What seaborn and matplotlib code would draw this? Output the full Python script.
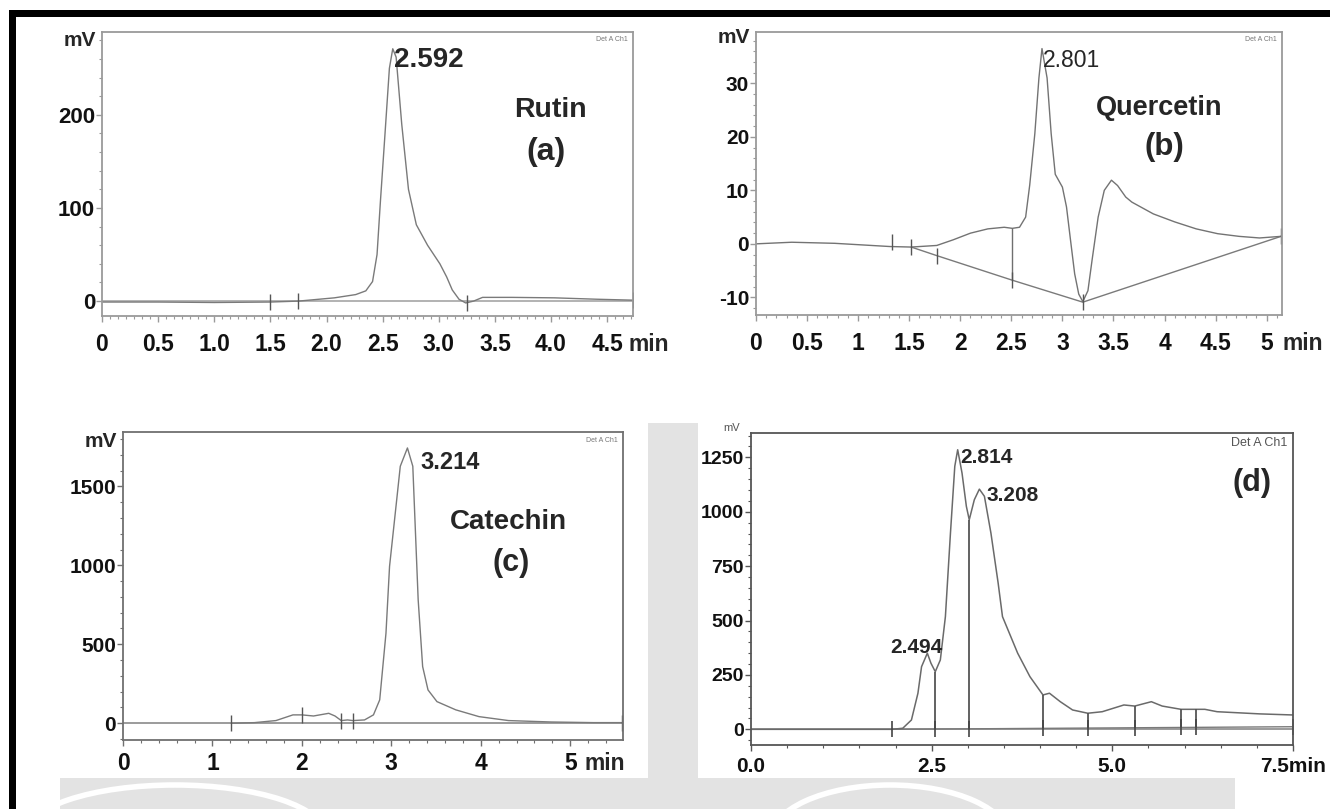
import matplotlib
matplotlib.use("Agg")
import matplotlib.pyplot as plt
import seaborn as sns
from matplotlib.ticker import MultipleLocator, FixedLocator
from matplotlib.patches import Rectangle, Ellipse

# ---------------- data ----------------
# (a) Rutin
rutin_t = [0.0, 0.5, 1.0, 1.5, 1.75, 2.07, 2.26, 2.35, 2.41, 2.45, 2.48, 2.52, 2.56, 2.59,
           2.62, 2.67, 2.73, 2.80, 2.90, 3.01, 3.07, 3.12, 3.18, 3.24, 3.31, 3.39, 3.65,
           4.03, 4.41, 4.73]
rutin_mv = [-1, -1, -1.5, -1, 0, 3.5, 7, 11, 21, 50, 107, 178, 250, 271,
            262, 190, 120, 82, 60, 40, 26, 12, 2, -2, 0, 4, 4,
            3.5, 2, 1]
rutin_marks_t = [1.5, 1.75, 3.25, 4.73]
rutin_marks_mv = [-1, 0, -2, 1]

# (b) Quercetin
quer_t = [0.0, 0.35, 0.77, 1.31, 1.52, 1.77, 1.93, 2.10, 2.27, 2.43, 2.51, 2.58, 2.64, 2.68,
          2.73, 2.77, 2.80, 2.85, 2.89, 2.93, 3.00, 3.04, 3.08, 3.12, 3.16, 3.20, 3.25,
          3.29, 3.35, 3.41, 3.48, 3.54, 3.62, 3.68, 3.89, 4.10, 4.31, 4.52, 4.73, 4.93, 5.14]
quer_mv = [0.0, 0.3, 0.1, -0.5, -0.6, -0.3, 0.75, 2.0, 2.8, 3.1, 2.9, 3.1, 5.0, 11.0,
           20.6, 31.0, 36.5, 31.0, 20.6, 13.0, 10.6, 6.9, 0.6, -5.6, -9.4, -10.8, -8.75,
           -3.1, 5.0, 10.0, 11.9, 10.9, 8.75, 7.8, 5.6, 4.1, 2.8, 1.9, 1.4, 1.1, 1.4]
quer_base_t = [1.52, 1.77, 2.51, 3.20, 5.14]
quer_base_mv = [-0.6, -2.2, -6.8, -10.9, 1.4]
quer_marks_t = [1.33, 1.52, 1.77, 2.51, 3.20, 5.14]
quer_marks_mv = [0.4, -0.6, -2.2, -6.8, -10.9, 1.4]
quer_drop_t = [2.51]
quer_drop_top = [2.9]
quer_drop_bot = [-6.8]

# (c) Catechin
cat_t = [1.21, 1.47, 1.71, 1.90, 2.00, 2.13, 2.30, 2.37, 2.44, 2.51, 2.57, 2.70, 2.80, 2.87,
         2.94, 2.98, 3.06, 3.10, 3.18, 3.24, 3.27, 3.30, 3.35, 3.41, 3.51, 3.72, 3.98,
         4.31, 4.79, 5.26, 5.58]
cat_mv = [0, 4, 17, 53, 53, 46, 63, 46, 17, 21, 17, 21, 53, 148,
          570, 993, 1415, 1627, 1743, 1627, 1204, 782, 359, 211, 137, 85, 42,
          17, 8, 4, 4]
cat_marks_t = [1.21, 2.00, 2.44, 2.57, 5.58]
cat_marks_mv = [0, 53, 17, 17, 4]

# (d) sample
samp_t = [0.0, 1.95, 2.10, 2.22, 2.31, 2.36, 2.44, 2.49, 2.55, 2.62, 2.69, 2.76, 2.82, 2.86,
          2.92, 2.98, 3.02, 3.09, 3.16, 3.23, 3.32, 3.42, 3.48, 3.69, 3.86, 4.04, 4.13,
          4.28, 4.45, 4.66, 4.86, 5.16, 5.31, 5.54, 5.69, 5.95, 6.16, 6.28, 6.45, 7.04, 7.5]
samp_mv = [0, 0, 5, 43, 166, 288, 350, 304, 265, 319, 518, 902, 1209, 1285,
           1178, 1025, 963, 1055, 1104, 1071, 902, 672, 518, 350, 242, 158, 166,
           127, 89, 74, 81, 112, 107, 127, 107, 92, 92, 92, 81, 71, 66]
samp_base_t = [1.95, 7.5]
samp_base_mv = [0, 12]
samp_drop_t = [2.55, 3.02, 4.04, 4.66, 5.31, 5.95, 6.16]
samp_drop_top = [265, 963, 158, 74, 107, 92, 92]
samp_drop_bot = [1, 3, 4, 6, 7, 9, 9]
samp_marks_t = [1.95, 2.55, 3.02, 4.04, 4.66, 5.31, 5.95, 6.16, 7.5]
samp_marks_mv = [0, 1, 3, 4, 6, 7, 9, 9, 12]

# tick labels
a_xticks = [0, 0.5, 1.0, 1.5, 2.0, 2.5, 3.0, 3.5, 4.0, 4.5]
a_xlabels = ["0", "0.5", "1.0", "1.5", "2.0", "2.5", "3.0", "3.5", "4.0", "4.5"]
a_yticks = [0, 100, 200]
b_xticks = [0, 0.5, 1, 1.5, 2, 2.5, 3, 3.5, 4, 4.5, 5]
b_xlabels = ["0", "0.5", "1", "1.5", "2", "2.5", "3", "3.5", "4", "4.5", "5"]
b_yticks = [-10, 0, 10, 20, 30]
c_xticks = [0, 1, 2, 3, 4, 5]
c_xlabels = ["0", "1", "2", "3", "4", "5"]
c_yticks = [0, 500, 1000, 1500]
d_xticks = [0.0, 2.5, 5.0, 7.5]
d_xlabels = ["0.0", "2.5", "5.0", "7.5min"]
d_yticks = [0, 250, 500, 750, 1000, 1250]

# ---------------- figure ----------------
sns.set_theme(style="ticks")
plt.rcParams["font.family"] = ["Liberation Sans", "DejaVu Sans"]

W, H = 1330, 809
fig = plt.figure(figsize=(W / 100, H / 100), dpi=100)
fig.patch.set_facecolor("white")


def frect(x0, y0, x1, y1, color, z=0):
    fig.patches.append(Rectangle((x0 / W, 1 - y1 / H), (x1 - x0) / W, (y1 - y0) / H,
                                 transform=fig.transFigure, color=color, zorder=z, lw=0))


# faint watermark behind the lower panels
wm = "#e3e3e3"
frect(648, 423, 698, 809, wm)
frect(60, 778, 1235, 809, wm)
for (cx, cy, ew, eh) in [(175, 835, 300, 100), (890, 840, 240, 110)]:
    fig.patches.append(Ellipse((cx / W, 1 - cy / H), ew / W, eh / H, transform=fig.transFigure,
                               fill=False, ec="white", lw=4, zorder=0.5))

# black frame (top and left)
frect(9, 10, 1330, 17, "black", 5)
frect(9, 10, 16, 809, "black", 5)


def add_ax(l, t, r, b):
    ax = fig.add_axes([l / W, 1 - b / H, (r - l) / W, (b - t) / H])
    ax.set_facecolor("white")
    return ax


def style(ax, xlim, ylim, xticks, xlabels, xminor, yticks, yminor, spine, xsize, ysize,
          xpad):
    ax.set_xlim(*xlim)
    ax.set_ylim(*ylim)
    for s in ax.spines.values():
        s.set_color(spine)
        s.set_linewidth(1.3)
        s.set_visible(True)
    ax.xaxis.set_major_locator(FixedLocator(xticks))
    ax.set_xticklabels(xlabels, fontsize=xsize, fontweight="bold", color="#111111")
    ax.xaxis.set_minor_locator(MultipleLocator(xminor))
    ax.yaxis.set_major_locator(FixedLocator(yticks))
    ax.set_yticklabels([str(v) for v in yticks], fontsize=ysize, fontweight="bold",
                       color="#111111")
    ax.yaxis.set_minor_locator(MultipleLocator(yminor))
    ax.tick_params(axis="both", which="both", direction="out", color=spine,
                   bottom=True, left=True, top=False, right=False)
    ax.tick_params(axis="x", which="major", length=4, width=1.0, pad=xpad)
    ax.tick_params(axis="x", which="minor", length=2.5, width=0.8)
    ax.tick_params(axis="y", which="major", length=4, width=1.0, pad=1)
    ax.tick_params(axis="y", which="minor", length=2.5, width=0.8)
    ax.set_xlabel("")
    ax.set_ylabel("")


trace_kw = dict(estimator=None, sort=False, legend=False)

# ---------------- (a) Rutin ----------------
axa = add_ax(102, 32, 633, 316)
axa.axhline(0, color="#a5a5a5", lw=1.2, zorder=1)
sns.lineplot(x=rutin_t, y=rutin_mv, ax=axa, color="#7a7a7a", lw=1.0, **trace_kw)
axa.plot(rutin_marks_t, rutin_marks_mv, ls="none", marker="|", ms=11, mew=1.0, color="#555555")
style(axa, (0, 4.73), (-16, 289), a_xticks, a_xlabels, 0.5 / 7, a_yticks, 20, "#9a9a9a",
      16.5, 16, 8.5)
axa.text(0.55, 0.90, "2.592", transform=axa.transAxes, fontsize=20, fontweight="bold",
         ha="left", va="center")
axa.text(0.844, 0.725, "Rutin", transform=axa.transAxes, fontsize=20.5, fontweight="bold",
         ha="center", va="center")
axa.text(0.836, 0.577, "(a)", transform=axa.transAxes, fontsize=23, fontweight="bold",
         ha="center", va="center")
axa.text(0.99, 0.985, "Det A Ch1", transform=axa.transAxes, fontsize=5, color="#777777",
         ha="right", va="top")
axa.text(-0.012, 0.97, "mV", transform=axa.transAxes, fontsize=15, fontweight="bold",
         ha="right", va="center")
axa.text(1.03, -0.099, "min", transform=axa.transAxes, fontsize=16.5, fontweight="bold",
         ha="center", va="center")

# ---------------- (b) Quercetin ----------------
axb = add_ax(756, 32, 1282, 315)
sns.lineplot(x=quer_base_t, y=quer_base_mv, ax=axb, color="#7a7a7a", lw=1.0, **trace_kw)
sns.lineplot(x=quer_t, y=quer_mv, ax=axb, color="#737373", lw=1.0, **trace_kw)
axb.vlines(quer_drop_t, quer_drop_bot, quer_drop_top, color="#6f6f6f", lw=1.0)
axb.plot(quer_marks_t, quer_marks_mv, ls="none", marker="|", ms=11, mew=1.0, color="#555555")
style(axb, (0, 5.15), (-13.3, 39.6), b_xticks, b_xlabels, 0.1, b_yticks, 2, "#9a9a9a",
      16.5, 15, 8.5)
axb.text(0.546, 0.90, "2.801", transform=axb.transAxes, fontsize=16.5, ha="left", va="center")
axb.text(0.766, 0.731, "Quercetin", transform=axb.transAxes, fontsize=19.5, fontweight="bold",
         ha="center", va="center")
axb.text(0.776, 0.594, "(b)", transform=axb.transAxes, fontsize=22.5, fontweight="bold",
         ha="center", va="center")
axb.text(0.99, 0.985, "Det A Ch1", transform=axb.transAxes, fontsize=5, color="#777777",
         ha="right", va="top")
axb.text(-0.012, 0.98, "mV", transform=axb.transAxes, fontsize=15, fontweight="bold",
         ha="right", va="center")
axb.text(1.0, -0.099, "min", transform=axb.transAxes, fontsize=16.5, fontweight="bold",
         ha="left", va="center")

# ---------------- (c) Catechin ----------------
axc = add_ax(123, 432, 623, 740)
axc.axhline(0, color="#8a8a8a", lw=1.2, zorder=1)
sns.lineplot(x=cat_t, y=cat_mv, ax=axc, color="#7a7a7a", lw=1.0, **trace_kw)
axc.plot(cat_marks_t, cat_marks_mv, ls="none", marker="|", ms=11, mew=1.0, color="#555555")
style(axc, (0, 5.59), (-106, 1844), c_xticks, c_xlabels, 0.2, c_yticks, 100, "#707070",
      16.5, 15, 5)
axc.text(0.594, 0.90, "3.214", transform=axc.transAxes, fontsize=17, fontweight="bold",
         ha="left", va="center")
axc.text(0.77, 0.708, "Catechin", transform=axc.transAxes, fontsize=20, fontweight="bold",
         ha="center", va="center")
axc.text(0.776, 0.575, "(c)", transform=axc.transAxes, fontsize=22, fontweight="bold",
         ha="center", va="center")
axc.text(0.99, 0.985, "Det A Ch1", transform=axc.transAxes, fontsize=5, color="#777777",
         ha="right", va="top")
axc.text(-0.012, 0.968, "mV", transform=axc.transAxes, fontsize=15, fontweight="bold",
         ha="right", va="center")
axc.text(0.924, -0.075, "min", transform=axc.transAxes, fontsize=16.5, fontweight="bold",
         ha="left", va="center")

# ---------------- (d) sample ----------------
axd = add_ax(751, 433, 1293, 745)
axd.axhline(0, color="#8a8a8a", lw=1.2, zorder=1)
sns.lineplot(x=samp_base_t, y=samp_base_mv, ax=axd, color="#7a7a7a", lw=1.0, **trace_kw)
sns.lineplot(x=samp_t, y=samp_mv, ax=axd, color="#6a6a6a", lw=1.1, **trace_kw)
axd.vlines(samp_drop_t, samp_drop_bot, samp_drop_top, color="#555555", lw=1.3)
axd.plot(samp_marks_t, samp_marks_mv, ls="none", marker="|", ms=11, mew=1.2, color="#444444")
style(axd, (0, 7.5), (-72, 1362), d_xticks, d_xlabels, 0.5, d_yticks, 50, "#555555",
      15, 14, 5)
axd.text(0.386, 0.923, "2.814", transform=axd.transAxes, fontsize=15, fontweight="bold",
         ha="left", va="center")
axd.text(0.435, 0.80, "3.208", transform=axd.transAxes, fontsize=15, fontweight="bold",
         ha="left", va="center")
axd.text(0.256, 0.314, "2.494", transform=axd.transAxes, fontsize=15, fontweight="bold",
         ha="left", va="center")
axd.text(0.924, 0.84, "(d)", transform=axd.transAxes, fontsize=22, fontweight="bold",
         ha="center", va="center")
axd.text(0.99, 0.968, "Det A Ch1", transform=axd.transAxes, fontsize=9, color="#555555",
         ha="right", va="center")
axd.text(-0.02, 1.016, "mV", transform=axd.transAxes, fontsize=8, color="#555555",
         ha="right", va="center")

fig.savefig("out.png", dpi=100, facecolor="white")
